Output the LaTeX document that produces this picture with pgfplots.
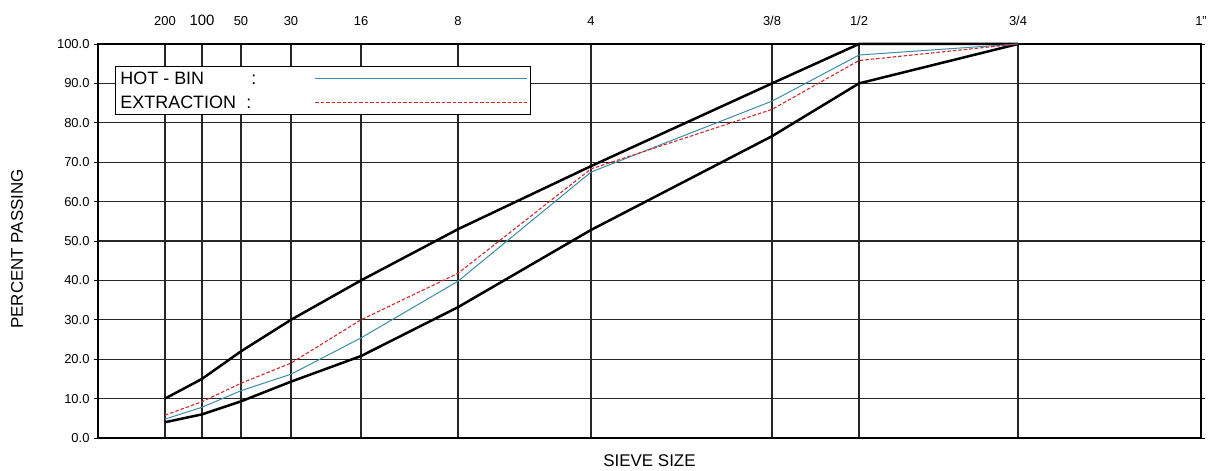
\documentclass[border=0pt]{standalone}
\usepackage{pgfplots}
\pgfplotsset{compat=1.18}
\usepackage{fontspec}
\setmainfont{Liberation Sans}
\definecolor{hotbin}{RGB}{60,140,170}
\definecolor{extr}{RGB}{210,40,40}
\begin{document}
\begin{tikzpicture}
\path[use as bounding box] (-98bp,-33bp) rectangle (1115bp,438bp);
\begin{axis}[
  scale only axis, width=1103bp, height=394bp,
  xmin=98, xmax=1201, ymin=0, ymax=100,
  clip=false,
  xtick={165,202,241,291,361,458,591,772,859,1018,1201},
  xticklabels={200,{\fontsize{15}{15}\selectfont 100},50,30,16,8,4,3/8,1/2,3/4,1"},
  xticklabel pos=upper,
  xticklabel style={yshift=11bp},
  xtick style={draw=none},
  ytick={0,10,...,100},
  yticklabels={0.0,10.0,20.0,30.0,40.0,50.0,60.0,70.0,80.0,90.0,100.0},
  yticklabel style={xshift=-1bp},
  ytick style={line width=0.8bp, black},
  tick align=outside, major tick length=4bp,
  tick label style={font=\fontsize{13}{13}\selectfont},
  grid=major,
  major grid style={line width=1.1bp, black!85},
  axis line style={line width=2.2bp},
  xlabel={SIEVE SIZE},
  xlabel style={at={(axis description cs:0.5,-0.058)}, anchor=center, font=\fontsize{17}{17}\selectfont},
  ylabel={PERCENT PASSING},
  ylabel style={at={(axis description cs:-0.0734,0.48)}, anchor=center, font=\fontsize{17}{17}\selectfont},
  legend plot pos=right,
  legend image code/.code={\draw[#1] (0bp,0bp) -- (155bp,0bp); \path (0bp,0bp) -- (212bp,0bp);},
  legend style={at={(axis description cs:0.0154,0.944)}, anchor=north west,
    fill=white, draw=black, line width=1bp, font=\fontsize{18}{20}\selectfont,
    legend cell align=left, inner sep=3bp, row sep=6bp},
]
\addplot[black, line width=2.5bp, forget plot] coordinates {(165,10) (202,15) (241,22) (291,30) (361,40) (458,53) (591,69) (772,90) (859,100) (1018,100)};
\addplot[black, line width=2.5bp, forget plot] coordinates {(165,4) (202,6) (241,9.3) (291,14.3) (361,20.8) (458,33.2) (591,52.8) (772,76.6) (859,90) (1018,100)};
\addplot[draw=hotbin, line width=1bp] coordinates {(165,4.8) (202,7.8) (241,12) (291,16.2) (361,25.4) (458,39.8) (591,67.5) (772,85.5) (859,97.2) (1018,100)};
\addlegendentry{\makebox[192bp][l]{\makebox[131bp][l]{HOT - BIN}:}}
\addplot[draw=extr, line width=1.1bp, dash pattern=on 3.5bp off 2bp] coordinates {(165,5.8) (202,9.2) (241,13.9) (291,19) (361,30) (458,41.8) (591,68.3) (772,83.4) (859,95.8) (1018,100)};
\addlegendentry{\makebox[192bp][l]{\makebox[126bp][l]{EXTRACTION}:}}
\end{axis}
\end{tikzpicture}
\end{document}
